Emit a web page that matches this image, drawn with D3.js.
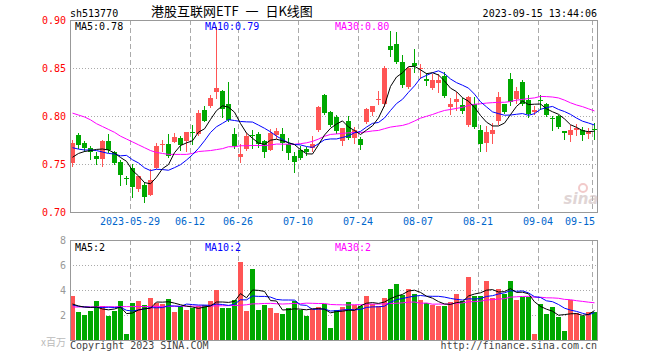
<!DOCTYPE html>
<html><head><meta charset="utf-8">
<script src="https://cdn.jsdelivr.net/npm/d3@7"></script>
<style>body{margin:0;background:#fff}svg{display:block}</style>
</head><body><svg id="c" width="660" height="360"></svg>
<script>
const dates = [
"2023-05-15","2023-05-16","2023-05-17","2023-05-18","2023-05-19","2023-05-22","2023-05-23","2023-05-24","2023-05-25","2023-05-26",
"2023-05-29","2023-05-30","2023-05-31","2023-06-01","2023-06-02","2023-06-05","2023-06-06","2023-06-07","2023-06-08","2023-06-09",
"2023-06-12","2023-06-13","2023-06-14","2023-06-15","2023-06-16","2023-06-19","2023-06-20","2023-06-21","2023-06-26","2023-06-27",
"2023-06-28","2023-06-29","2023-06-30","2023-07-03","2023-07-04","2023-07-05","2023-07-06","2023-07-07","2023-07-10","2023-07-11",
"2023-07-12","2023-07-13","2023-07-14","2023-07-17","2023-07-18","2023-07-19","2023-07-20","2023-07-21","2023-07-24","2023-07-25",
"2023-07-26","2023-07-27","2023-07-28","2023-07-31","2023-08-01","2023-08-02","2023-08-03","2023-08-04","2023-08-07","2023-08-08",
"2023-08-09","2023-08-10","2023-08-11","2023-08-14","2023-08-15","2023-08-16","2023-08-17","2023-08-18","2023-08-21","2023-08-22",
"2023-08-23","2023-08-24","2023-08-25","2023-08-28","2023-08-29","2023-08-30","2023-08-31","2023-09-01","2023-09-04","2023-09-05",
"2023-09-06","2023-09-07","2023-09-08","2023-09-11","2023-09-12","2023-09-13","2023-09-14","2023-09-15"];
const opens = [
0.751,0.780,0.772,0.767,0.758,0.755,0.774,0.762,0.752,0.7355,
0.746,0.724,0.728,0.718,0.746,0.770,0.771,0.773,0.777,0.774,
0.783,0.781,0.806,0.810,0.825,0.826,0.8125,0.781,0.757,0.766,
0.7805,0.781,0.774,0.765,0.780,0.781,0.771,0.758,0.765,0.766,
0.767,0.785,0.822,0.804,0.799,0.774,0.795,0.777,0.776,0.794,
0.804,0.8175,0.812,0.873,0.875,0.856,0.830,0.855,0.850,0.839,
0.829,0.834,0.842,0.8095,0.815,0.811,0.791,0.813,0.785,0.772,
0.781,0.795,0.8125,0.839,0.8175,0.835,0.817,0.804,0.8165,0.8125,
0.7975,0.800,0.7842,0.780,0.785,0.785,0.781,0.786];
const highs = [
0.775,0.782,0.774,0.769,0.762,0.775,0.781,0.764,0.754,0.7375,
0.750,0.7375,0.731,0.745,0.772,0.775,0.781,0.782,0.779,0.783,
0.791,0.806,0.810,0.822,0.893,0.827,0.835,0.787,0.771,0.782,
0.785,0.783,0.775,0.786,0.788,0.787,0.777,0.763,0.769,0.768,
0.779,0.810,0.823,0.805,0.801,0.788,0.800,0.789,0.778,0.808,
0.810,0.826,0.852,0.889,0.887,0.864,0.851,0.870,0.854,0.845,
0.844,0.844,0.846,0.819,0.825,0.819,0.821,0.820,0.791,0.790,
0.793,0.825,0.813,0.845,0.830,0.838,0.822,0.810,0.822,0.814,
0.800,0.801,0.7845,0.791,0.792,0.789,0.788,0.793];
const lows = [
0.748,0.767,0.764,0.755,0.750,0.748,0.763,0.750,0.728,0.729,
0.716,0.722,0.710,0.718,0.746,0.764,0.757,0.773,0.765,0.764,
0.771,0.780,0.795,0.809,0.819,0.799,0.795,0.767,0.752,0.765,
0.767,0.768,0.757,0.765,0.777,0.765,0.755,0.742,0.755,0.759,
0.764,0.784,0.802,0.790,0.782,0.770,0.776,0.772,0.766,0.793,
0.801,0.813,0.810,0.862,0.855,0.830,0.829,0.846,0.840,0.832,
0.828,0.825,0.820,0.802,0.806,0.803,0.790,0.787,0.764,0.764,
0.772,0.792,0.803,0.811,0.814,0.8115,0.799,0.802,0.807,0.800,
0.785,0.787,0.776,0.774,0.780,0.775,0.777,0.776];
const closes = [
0.772,0.770,0.767,0.762,0.755,0.774,0.765,0.751,0.739,0.735,
0.726,0.737,0.716,0.733,0.769,0.771,0.758,0.778,0.770,0.783,
0.782,0.803,0.795,0.819,0.829,0.807,0.796,0.769,0.760,0.779,
0.780,0.771,0.762,0.782,0.784,0.772,0.761,0.752,0.756,0.762,
0.771,0.809,0.803,0.791,0.784,0.7875,0.777,0.785,0.770,0.807,
0.810,0.818,0.850,0.869,0.856,0.832,0.850,0.852,0.8505,0.836,
0.837,0.838,0.821,0.813,0.818,0.805,0.820,0.789,0.771,0.783,
0.785,0.820,0.804,0.815,0.826,0.8125,0.802,0.806,0.816,0.801,
0.797,0.789,0.782,0.7855,0.7875,0.780,0.783,0.785];
const volumes = [
3.52,2.24,2.0,2.32,3.12,2.72,1.92,2.32,3.12,0.48,
2.96,3.12,2.8,3.36,2.96,2.9,3.28,2.24,2.72,2.4,
2.56,2.72,2.8,3.12,4.0,2.56,2.56,3.2,6.24,2.32,
5.68,2.4,2.8,2.56,2.16,2.08,2.56,3.12,2.4,1.92,
2.48,2.64,2.88,0.96,2.4,2.64,3.04,2.8,2.72,3.52,
2.88,2.72,3.36,4.08,4.48,3.6,4.08,3.68,3.2,2.96,
2.8,2.72,2.72,3.04,3.68,3.12,5.04,3.52,3.52,4.72,
3.36,4.08,3.68,4.72,3.2,3.44,3.44,0.48,2.88,2.08,
2.64,1.84,0.72,3.2,2.16,1.92,2.24,2.24];
// moving-average values before a full window exists
const ma5Head = [0.757,0.761,0.763,0.764];
const ma10Head = [0.767,0.7655,0.7646,0.7646,0.764,0.7625,0.761,0.7604,0.7585];
const ma30Head = [0.803,0.801,0.799,0.796,0.792,0.789,0.786,0.783,0.779,0.776,
0.773,0.770,0.767,0.764,0.762,0.761,0.760,0.760,0.760,0.760,
0.761,0.763,0.7635,0.764,0.765,0.766,0.768,0.768,0.769];
const vma5Head = [2.88,2.72,2.64,2.6];
const vma10Head = [2.8,2.7,2.64,2.62,2.6,2.6,2.62,2.6,2.62];
const vma30Head = [2.64,2.64,2.65,2.65,2.65,2.66,2.66,2.66,2.67,2.67,
2.67,2.68,2.68,2.68,2.69,2.69,2.69,2.70,2.70,2.70,
2.71,2.71,2.72,2.72,2.73,2.74,2.75,2.76,2.78];
const priceTicks = [0.70,0.75,0.80,0.85,0.90];
const volTicks = [2,4,6,8];
const dateTicks = ["2023-05-29","2023-06-12","2023-06-26","2023-07-10","2023-07-24","2023-08-07","2023-08-21","2023-09-04","2023-09-15"];
const dateTickLabels = ["2023-05-29","06-12","06-26","07-10","07-24","08-07","08-21","09-04","09-15"];
const symbol = "sh513770";
const title = "港股互联网ETF 一 日K线图";
const stamp = "2023-09-15 13:44:06";

const RED = "#ff5555", GREEN = "#00a800";
const L = 70, R = 597, PT = 20, PB = 212, VT = 240, VB = 340;
const MONO = "'DejaVu Sans Mono', 'Liberation Mono', monospace";
const svg = d3.select("#c");

const x = d3.scaleBand().domain(dates).range([L, R]).paddingInner(1/6).paddingOuter(0);
const y = d3.scaleLinear().domain([0.70, 0.90]).range([PB, PT]);
const yv = d3.scaleLinear().domain([0, 8]).range([VB, VT]);

function movAvg(arr, n, head) {
  return arr.map((v, i) => i >= n - 1 ? d3.mean(arr.slice(i - n + 1, i + 1)) : head[i]);
}
const ma5 = movAvg(closes, 5, ma5Head), ma10 = movAvg(closes, 10, ma10Head), ma30 = movAvg(closes, 30, ma30Head);
const vma5 = movAvg(volumes, 5, vma5Head), vma10 = movAvg(volumes, 10, vma10Head), vma30 = movAvg(volumes, 30, vma30Head);
const trunc2 = v => (Math.floor(v * 100 + 1e-9) / 100).toFixed(2);

const data = dates.map((d, i) => ({d, o: opens[i], h: highs[i], l: lows[i], c: closes[i], v: volumes[i]}));
const col = r => r.c >= r.o ? RED : GREEN;

// grids
function grid(top, bottom, yscale, ticks) {
  const g = svg.append("g").attr("shape-rendering", "crispEdges");
  g.selectAll("line.h").data(ticks).join("line")
    .attr("x1", L).attr("x2", R).attr("y1", d => Math.round(yscale(d)) + 0.5).attr("y2", d => Math.round(yscale(d)) + 0.5)
    .attr("stroke", "#aaa").attr("stroke-dasharray", "1,2");
  g.selectAll("line.v").data(dateTicks).join("line")
    .attr("x1", d => x(d) + 0.5).attr("x2", d => x(d) + 0.5).attr("y1", top).attr("y2", bottom)
    .attr("stroke", "#aaa").attr("stroke-dasharray", "5,3");
}
grid(PT, PB, y, [0.75, 0.80, 0.85]);
grid(VT, VB, yv, [2, 4, 6]);

// candles
const cg = svg.append("g").attr("shape-rendering", "crispEdges");
cg.selectAll("line.w").data(data).join("line")
  .attr("x1", r => x(r.d) + 2.5).attr("x2", r => x(r.d) + 2.5)
  .attr("y1", r => Math.round(y(r.h))).attr("y2", r => Math.round(y(r.l)) + 1)
  .attr("stroke", col);
cg.selectAll("rect").data(data).join("rect")
  .attr("x", r => x(r.d)).attr("width", x.bandwidth())
  .attr("y", r => Math.round(y(Math.max(r.o, r.c))))
  .attr("height", r => Math.max(1, Math.round(y(Math.min(r.o, r.c))) - Math.round(y(Math.max(r.o, r.c)))))
  .attr("fill", col);

// volume bars
svg.append("g").attr("shape-rendering", "crispEdges").selectAll("rect").data(data).join("rect")
  .attr("x", r => x(r.d)).attr("width", x.bandwidth())
  .attr("y", r => Math.round(yv(r.v))).attr("height", r => VB - Math.round(yv(r.v)))
  .attr("fill", col);

// MA lines
function maLine(vals, yscale, color) {
  svg.append("path").datum(vals)
    .attr("d", d3.line().x((v, i) => x(dates[i]) + 2.5).y(v => yscale(v)))
    .attr("fill", "none").attr("stroke", color).attr("stroke-width", 1);
}
maLine(ma30, y, "#ff00ff"); maLine(ma10, y, "#0000ff"); maLine(ma5, y, "#000");
maLine(vma30, yv, "#ff00ff"); maLine(vma10, yv, "#0000ff"); maLine(vma5, yv, "#000");

// borders
[[PT, PB], [VT, VB]].forEach(([t, b]) => {
  svg.append("rect").attr("x", L + 0.5).attr("y", t + 0.5).attr("width", R - L).attr("height", b - t)
    .attr("fill", "none").attr("stroke", "#999").attr("shape-rendering", "crispEdges");
});

// axis labels
svg.append("g").selectAll("text").data(priceTicks).join("text")
  .attr("x", 66).attr("y", d => y(d) + 4).attr("text-anchor", "end")
  .attr("font-family", MONO).attr("font-size", 10).attr("fill", "#f00").text(d3.format(".2f"));
svg.append("g").selectAll("text").data(volTicks).join("text")
  .attr("x", 66).attr("y", d => yv(d) + 4).attr("text-anchor", "end")
  .attr("font-family", MONO).attr("font-size", 10).attr("fill", "#999").text(d => d);
svg.append("text").attr("x", 66).attr("y", 346).attr("text-anchor", "end")
  .attr("font-family", "'Noto Sans CJK SC', sans-serif").attr("font-size", 10).attr("fill", "#bbb").text("x百万");
svg.append("g").selectAll("text").data(dateTicks).join("text")
  .attr("x", (d, i) => i === dateTicks.length - 1 ? x(d) + 3 : x(d))
  .attr("y", 225).attr("text-anchor", (d, i) => i === dateTicks.length - 1 ? "end" : "middle")
  .attr("font-family", MONO).attr("font-size", 10).attr("fill", "#0066cc")
  .text((d, i) => dateTickLabels[i]);

// MA legends
function legend(items, yy) {
  items.forEach(([xx, color, txt]) => svg.append("text").attr("x", xx).attr("y", yy)
    .attr("font-family", MONO).attr("font-size", 10).attr("fill", color).text(txt));
}
const last = dates.length - 1;
legend([[75, "#000", "MA5:" + trunc2(ma5[last])], [205, "#0000ff", "MA10:" + trunc2(ma10[last])], [335, "#ff00ff", "MA30:" + trunc2(ma30[last])]], 30);
legend([[75, "#000", "MA5:" + Math.floor(vma5[last])], [205, "#0000ff", "MA10:" + Math.floor(vma10[last])], [335, "#ff00ff", "MA30:" + Math.floor(vma30[last])]], 251);

// header / footer
svg.append("text").attr("x", 70).attr("y", 17).attr("font-family", MONO).attr("font-size", 10).attr("fill", "#000").text(symbol);
svg.append("text").attr("x", 151).attr("y", 16)
  .attr("font-family", "'Noto Sans CJK SC', sans-serif").attr("font-size", 13).attr("word-spacing", 4)
  .attr("fill", "#000").text(title);
svg.append("text").attr("x", 597).attr("y", 17).attr("text-anchor", "end").attr("font-family", MONO).attr("font-size", 10).attr("fill", "#000").text(stamp);
svg.append("text").attr("x", 70).attr("y", 349).attr("font-family", MONO).attr("font-size", 10).attr("fill", "#444").text("Copyright 2023 SINA.COM");
svg.append("text").attr("x", 597).attr("y", 349).attr("text-anchor", "end").attr("font-family", MONO).attr("font-size", 10).attr("fill", "#444").text("http://finance.sina.com.cn");

// watermark
const wm = svg.append("g").attr("opacity", 0.55);
wm.append("circle").attr("cx", 583).attr("cy", 188).attr("r", 4).attr("fill", "none").attr("stroke", "#e8a0a0").attr("stroke-width", 2);
wm.append("text").attr("x", 581).attr("y", 204).attr("text-anchor", "middle")
  .attr("font-family", "'DejaVu Sans', sans-serif").attr("font-weight", "bold").attr("font-style", "italic")
  .attr("font-size", 15).attr("fill", "#c8b4b4").text("sina");
</script></body></html>
